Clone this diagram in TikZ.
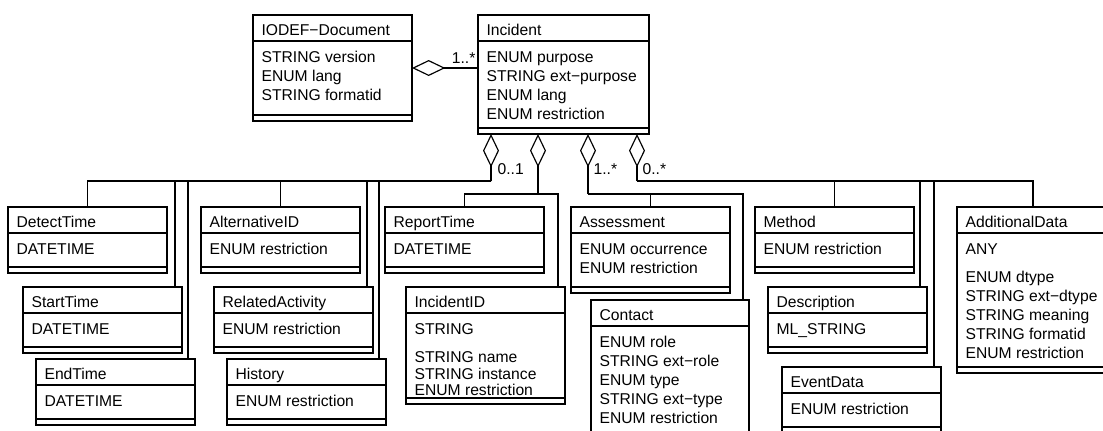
\documentclass[tikz,border=0pt]{standalone}
\usepackage{fontspec}
\setmainfont{Liberation Sans}
\usetikzlibrary{arrows.meta, calc}

\begin{document}
\begin{tikzpicture}[x=0.6pt, y=-0.6pt, line width=0.7pt,
  cls/.style = {draw, rectangle, anchor=north west, inner sep=0pt, outer sep=0pt},
  txt/.style = {anchor=north west, inner sep=0pt, align=left, font=\fontsize{9.4}{11.4}\selectfont},
  mult/.style = {anchor=base west, inner sep=0pt, font=\fontsize{9.4}{11.4}\selectfont},
  agg/.style = {-{Diamond[open, length=20pt, width=9.6pt]}}]
  \useasboundingbox (0,0) rectangle (1103,430);
  \clip (0,0) rectangle (1103,430);
  % classes: name/x/y/width/height/title/attributes
  \foreach \n/\x/\y/\w/\h/\t/\a in {
    iodef/253/15/159/106/IODEF−Document/{STRING version\\ENUM lang\\STRING formatid},
    incident/478/15/171/119/Incident/{ENUM purpose\\STRING ext−purpose\\ENUM lang\\ENUM restriction},
    detect/8/207/159/66/DetectTime/DATETIME,
    startT/23/287/159/66/StartTime/DATETIME,
    endT/36/359/159/66/EndTime/DATETIME,
    altID/201/207/159/66/AlternativeID/ENUM restriction,
    related/214/287/159/66/RelatedActivity/ENUM restriction,
    history/227/359/159/66/History/ENUM restriction,
    reportT/385/207/159/66/ReportTime/DATETIME,
    incID/406/287/159/117/IncidentID/{STRING\\[5.4pt]STRING name\\[-1.5pt]STRING instance\\[-1.5pt]ENUM restriction},
    assess/571/207/159/86/Assessment/{ENUM occurrence\\ENUM restriction},
    contact/591/300/158/142/Contact/{ENUM role\\STRING ext−role\\ENUM type\\STRING ext−type\\ENUM restriction},
    method/755/207/159/66/Method/ENUM restriction,
    descr/768/287/159/66/Description/ML\_STRING,
    eventD/782/367/159/66/EventData/ENUM restriction,
    addData/957/207/159/166/AdditionalData/{ANY\\[5.4pt]ENUM dtype\\STRING ext−dtype\\STRING meaning\\STRING formatid\\ENUM restriction}} {
    \node[cls, minimum width={\w*0.6pt}, minimum height={\h*0.6pt}] (\n) at (\x,\y) {};
    \node[txt] (\n-t) at ($(\n.north west)+(8,9)$) {\t};
    \node[txt] (\n-a) at ($(\n.north west)+(8,36)$) {\a};
    \draw ($(\n.north west)+(0,26)$) -- ($(\n.north east)+(0,26)$);
    \draw ($(\n.south west)+(0,-6)$) -- ($(\n.south east)+(0,-6)$);
  }

  % aggregations
  \draw[agg] ($(incident.north west)+(0,53)$) -- ($(iodef.north east)+(0,53)$);
  \node[mult, anchor=base east] (m0) at (476,63) {1..*};
  \coordinate (b1) at (491,181);
  \coordinate (b2) at (538,194);
  \coordinate (b3) at (588,194);
  \coordinate (b4) at (637,181);
  \draw[agg] (b1) -- (b1 |- incident.south);
  \draw[agg] (b2) -- (b2 |- incident.south);
  \draw[agg] (b3) -- (b3 |- incident.south);
  \draw[agg] (b4) -- (b4 |- incident.south);
  \node[mult] (m1) at (497,174) {0..1};
  \node[mult] (m3) at (593,174) {1..*};
  \node[mult] (m4) at (642,174) {0..*};

  \draw (b1) -| (detect.north);
  \draw (b1) -| ($(startT.north east)+(-7,0)$);
  \draw (b1) -| ($(endT.north east)+(-7,0)$);
  \draw (b1) -| (altID.north);
  \draw (b1) -| ($(related.north east)+(-6,0)$);
  \draw (b1) -| ($(history.north east)+(-7,0)$);
  \draw (b2) -| (reportT.north);
  \draw (b2) -| ($(incID.north east)+(-7,0)$);
  \draw (b3) -| (assess.north);
  \draw (b3) -| ($(contact.north east)+(-6,0)$);
  \draw (b4) -| (method.north);
  \draw (b4) -| ($(descr.north east)+(-7,0)$);
  \draw (b4) -| ($(eventD.north east)+(-7,0)$);
  \draw (b4) -| ($(addData.north west)+(76,0)$);
\end{tikzpicture}
\end{document}
